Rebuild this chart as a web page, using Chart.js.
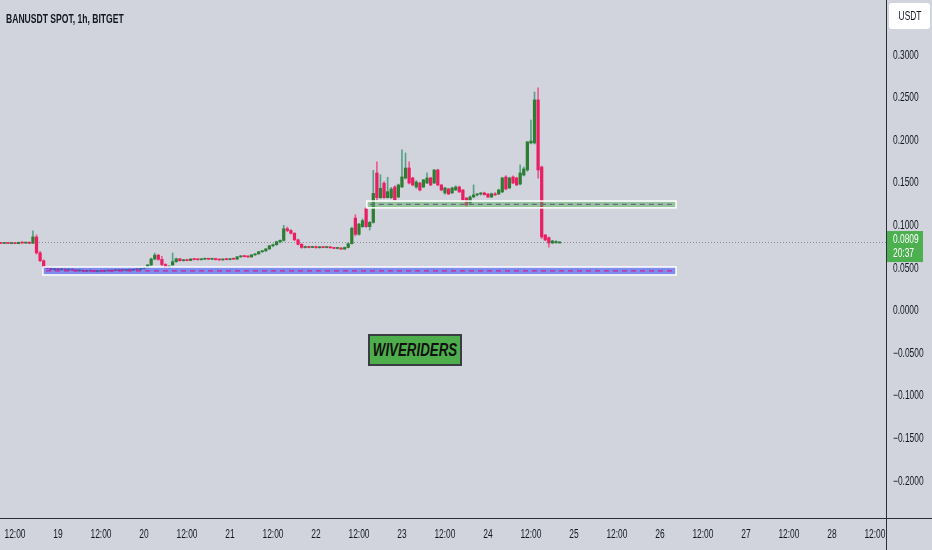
<!DOCTYPE html>
<html>
<head>
<meta charset="utf-8">
<script src="https://cdn.jsdelivr.net/npm/chart.js@4.4.1/dist/chart.umd.min.js"></script>
<style>
  html, body { margin: 0; padding: 0; background: #d1d4dc; }
  #wrap { position: relative; width: 932px; height: 550px; overflow: hidden; }
  .squeeze { position: absolute; left: 50%; top: 0; transform: translateX(-50%) scaleX(0.7); white-space: nowrap; }
  #title { position: absolute; left: 6px; top: 11px; font: bold 13px 'Liberation Sans', sans-serif; color: #131722;
           transform: scaleX(0.66); transform-origin: left top; white-space: nowrap; }
  #unit { position: absolute; left: 889px; top: 3px; width: 41px; height: 26px; background: #fff; border-radius: 3px;
          font: 12px 'Liberation Sans', sans-serif; color: #131722; line-height: 26px; }
  #brand { position: absolute; left: 368px; top: 334px; width: 90px; height: 28px; background: #4fae4c; border: 2px solid #3a3d42;
           font: italic bold 19px 'Liberation Sans', sans-serif; color: #111; line-height: 28px; }
</style>
</head>
<body>
<div id="wrap">
  <canvas id="chart" width="932" height="550"></canvas>
  <div id="title">BANUSDT SPOT, 1h, BITGET</div>
  <div id="unit"><span class="squeeze">USDT</span></div>
  <div id="brand"><span class="squeeze">WIVERIDERS</span></div>
</div>
<script>
// hourly candles, first one at hour 8 of day 18
const firstHour = 8;
const opens = [
  .0795, .0793, .0795, .0792, .0794, .0790, .0805, .0797, .0799, .0794,
  .0868, .0682, .0590, .0510, .0500, .0485, .0490, .0484, .0488, .0481,
  .0486, .0480, .0472, .0476, .0466, .0473, .0468, .0462, .0470, .0466,
  .0476, .0469, .0479, .0474, .0484, .0476, .0482, .0478, .0488, .0484,
  .0496, .0510, .0540, .0610, .0655, .0605, .0545, .0515, .0540, .0578,
  .0612, .0590, .0600, .0592, .0610, .0604, .0601, .0608, .0612, .0607,
  .0614, .0602, .0599, .0606, .0603, .0611, .0608, .0635, .0645, .0638,
  .0634, .0658, .0670, .0695, .0705, .0728, .0765, .0778, .0812, .0828,
  .0965, .0945, .0912, .0835, .0782, .0745, .0756, .0745, .0755, .0742,
  .0752, .0744, .0750, .0741, .0734, .0740, .0726, .0745, .0790, .1090,
  .0900, .0990, .1200, .0990, .1040, .1620, .1330, .1500, .1330, .1330,
  .1455, .1338, .1455, .1560, .1678, .1561, .1455, .1502, .1455, .1502,
  .1561, .1502, .1655, .1479, .1385, .1432, .1385, .1420, .1455, .1420,
  .1326, .1268, .1338, .1362, .1373, .1385, .1373, .1338, .1375, .1373,
  .1397, .1573, .1444, .1573, .1561, .1490, .1596, .1655, .1972, .1972,
  .2477, .1690, .0892, .0860, .0798, .0800, .0809
];
const highs = [
  .0800, .0798, .0799, .0797, .0797, .0808, .0812, .0802, .0812, .0940,
  .0895, .0700, .0600, .0520, .0515, .0495, .0500, .0492, .0494, .0490,
  .0492, .0487, .0480, .0482, .0478, .0480, .0475, .0474, .0478, .0480,
  .0484, .0482, .0486, .0488, .0490, .0486, .0490, .0492, .0495, .0500,
  .0515, .0545, .0620, .0680, .0665, .0640, .0555, .0530, .0680, .0622,
  .0618, .0605, .0606, .0615, .0614, .0610, .0612, .0615, .0616, .0618,
  .0620, .0608, .0610, .0612, .0614, .0616, .0640, .0650, .0652, .0648,
  .0662, .0675, .0700, .0712, .0735, .0770, .0785, .0820, .0835, .1005,
  .0985, .0955, .0920, .0845, .0792, .0762, .0760, .0760, .0762, .0756,
  .0757, .0754, .0755, .0748, .0745, .0744, .0750, .0800, .0985, .1130,
  .1030, .1080, .1215, .1050, .1650, .1750, .1600, .1520, .1570, .1450,
  .1470, .1490, .1890, .1855, .1750, .1570, .1530, .1510, .1545, .1620,
  .1570, .1660, .1665, .1485, .1450, .1440, .1455, .1470, .1465, .1425,
  .1330, .1350, .1480, .1380, .1390, .1395, .1380, .1385, .1390, .1430,
  .1570, .1590, .1570, .1585, .1570, .1715, .1690, .1990, .2240, .2570,
  .2620, .1700, .0900, .0870, .0830, .0825, .0815
];
const lows = [
  .0790, .0789, .0790, .0788, .0789, .0789, .0795, .0792, .0790, .0792,
  .0665, .0580, .0505, .0490, .0480, .0478, .0482, .0476, .0478, .0474,
  .0477, .0468, .0465, .0462, .0460, .0463, .0458, .0458, .0463, .0462,
  .0466, .0465, .0470, .0470, .0472, .0470, .0475, .0474, .0480, .0480,
  .0490, .0505, .0535, .0600, .0595, .0530, .0505, .0505, .0535, .0572,
  .0585, .0585, .0588, .0590, .0600, .0598, .0598, .0602, .0604, .0603,
  .0598, .0595, .0596, .0600, .0600, .0604, .0605, .0630, .0634, .0630,
  .0632, .0652, .0665, .0688, .0700, .0722, .0752, .0770, .0800, .0820,
  .0930, .0900, .0825, .0775, .0735, .0738, .0740, .0742, .0738, .0738,
  .0740, .0740, .0738, .0730, .0728, .0722, .0722, .0740, .0785, .0880,
  .0890, .0980, .0980, .0950, .1030, .1300, .1320, .1320, .1325, .1320,
  .1300, .1330, .1450, .1550, .1490, .1470, .1440, .1410, .1450, .1495,
  .1470, .1495, .1470, .1410, .1370, .1365, .1380, .1415, .1390, .1300,
  .1230, .1260, .1330, .1350, .1360, .1360, .1330, .1330, .1355, .1365,
  .1390, .1420, .1435, .1495, .1470, .1480, .1585, .1640, .1960, .1960,
  .1560, .0850, .0825, .0750, .0790, .0795, .0805
];
const closes = [
  .0793, .0795, .0792, .0794, .0790, .0805, .0797, .0799, .0794, .0870,
  .0682, .0590, .0510, .0500, .0485, .0490, .0484, .0488, .0481, .0486,
  .0480, .0472, .0476, .0466, .0473, .0468, .0462, .0470, .0466, .0476,
  .0469, .0479, .0474, .0484, .0476, .0482, .0478, .0488, .0484, .0496,
  .0510, .0540, .0610, .0655, .0605, .0545, .0515, .0525, .0578, .0612,
  .0590, .0600, .0592, .0610, .0604, .0601, .0608, .0612, .0607, .0614,
  .0602, .0599, .0606, .0603, .0611, .0608, .0635, .0645, .0638, .0634,
  .0658, .0670, .0695, .0705, .0728, .0765, .0778, .0812, .0828, .0965,
  .0945, .0912, .0835, .0782, .0745, .0756, .0745, .0755, .0742, .0752,
  .0744, .0750, .0741, .0734, .0740, .0726, .0745, .0790, .0970, .0900,
  .1020, .1060, .0990, .1040, .1380, .1330, .1440, .1330, .1400, .1432,
  .1305, .1479, .1573, .1678, .1502, .1479, .1514, .1420, .1538, .1561,
  .1479, .1655, .1479, .1420, .1444, .1373, .1444, .1455, .1397, .1303,
  .1244, .1338, .1362, .1373, .1385, .1365, .1338, .1375, .1362, .1420,
  .1561, .1432, .1561, .1502, .1479, .1620, .1667, .1984, .1995, .2477,
  .1655, .0869, .0833, .0798, .0822, .0815, .0809
];
const lastPrice = 0.0809;
const countdown = '20:37';

// support / resistance boxes
const zoneStart = [110.2, 19.8];
const zoneEnd = [196.5, 196.5];
const zoneLow = [0.1210, 0.0423];
const zoneHigh = [0.1290, 0.0516];
const zoneFill = ['rgba(76, 175, 80, 0.45)', 'rgba(60, 80, 255, 0.55)'];
const zoneDash = ['#6d6a86', '#d3208b'];

const xTickHours = [12, 24, 36, 48, 60, 72, 84, 96, 108, 120, 132, 144, 156, 168, 180, 192, 204, 216, 228, 240, 252];
const xTickLabels = ['12:00', '19', '12:00', '20', '12:00', '21', '12:00', '22', '12:00', '23', '12:00',
                     '24', '12:00', '25', '12:00', '26', '12:00', '27', '12:00', '28', '12:00'];
const yTicks = [0.3, 0.25, 0.2, 0.15, 0.1, 0.05, 0, -0.05, -0.1, -0.15, -0.2];

const UP = '#2e7d32', DOWN = '#e91e63';
const UP_WICK = '#57a286', DOWN_WICK = '#ee5b8d';
const TEXT = '#131722';
const SQUEEZE = 0.7;  // labels in the source are horizontally condensed

const hours = opens.map((_, i) => firstHour + i);
const isUp = opens.map((o, i) => closes[i] >= o);

const bodies = hours.map((h, i) => ({ x: h, y: [Math.min(opens[i], closes[i]), Math.max(opens[i], closes[i])] }));
const wicks = hours.map((h, i) => ({ x: h, y: [lows[i], highs[i]] }));

function squeezedText(ctx, text, x, y, align) {
  ctx.save();
  ctx.translate(x, y);
  ctx.scale(SQUEEZE, 1);
  ctx.textAlign = align;
  ctx.textBaseline = 'middle';
  ctx.fillText(text, 0, 0);
  ctx.restore();
}

const overlay = {
  id: 'overlay',
  beforeDatasetsDraw(chart) {
    const { ctx, chartArea: a, scales: { y } } = chart;
    const py = Math.round(y.getPixelForValue(lastPrice)) + 0.5;
    ctx.save();
    ctx.strokeStyle = '#8c8f98';
    ctx.lineWidth = 1;
    ctx.setLineDash([1, 2]);
    ctx.beginPath();
    ctx.moveTo(a.left, py);
    ctx.lineTo(a.right, py);
    ctx.stroke();
    ctx.restore();
  },
  afterDatasetsDraw(chart) {
    const { ctx, chartArea: a, scales: { x, y } } = chart;
    ctx.save();
    ctx.beginPath();
    ctx.rect(a.left, a.top, a.right - a.left, a.bottom - a.top);
    ctx.clip();
    zoneStart.forEach((s, i) => {
      const x0 = x.getPixelForValue(s), x1 = x.getPixelForValue(zoneEnd[i]);
      const y0 = y.getPixelForValue(zoneHigh[i]), y1 = y.getPixelForValue(zoneLow[i]);
      ctx.fillStyle = zoneFill[i];
      ctx.fillRect(x0, y0, x1 - x0, y1 - y0);
      ctx.strokeStyle = '#ffffff';
      ctx.lineWidth = 1.5;
      ctx.setLineDash([]);
      ctx.strokeRect(x0, y0, x1 - x0, y1 - y0);
      const ym = (y0 + y1) / 2;
      ctx.strokeStyle = zoneDash[i];
      ctx.lineWidth = 1.2;
      ctx.setLineDash([5, 4]);
      ctx.beginPath();
      ctx.moveTo(x0 + 3, ym);
      ctx.lineTo(x1 - 3, ym);
      ctx.stroke();
    });
    ctx.restore();
  },
  afterDraw(chart) {
    const { ctx, chartArea: a, scales: { x, y }, width, height } = chart;
    ctx.save();
    ctx.font = "12px 'Liberation Sans', sans-serif";
    ctx.fillStyle = TEXT;
    // tick labels, placed by the scales
    y.ticks.forEach(t => {
      const label = (t.value < 0 ? '\u2212' : '') + Math.abs(t.value).toFixed(4);
      squeezedText(ctx, label, a.right + 7, y.getPixelForValue(t.value), 'left');
    });
    x.ticks.forEach(t => {
      squeezedText(ctx, xTickLabels[xTickHours.indexOf(t.value)], x.getPixelForValue(t.value), a.bottom + 17, 'center');
    });
    // axis separators
    ctx.strokeStyle = '#2a2e39';
    ctx.lineWidth = 1;
    ctx.beginPath();
    ctx.moveTo(Math.round(a.right) + 0.5, 0);
    ctx.lineTo(Math.round(a.right) + 0.5, height);
    ctx.moveTo(0, Math.round(a.bottom) + 0.5);
    ctx.lineTo(width, Math.round(a.bottom) + 0.5);
    ctx.stroke();
    // last price label
    const py = y.getPixelForValue(lastPrice);
    ctx.fillStyle = '#4caf50';
    ctx.fillRect(a.right + 1, py - 11, 36, 31);
    ctx.fillStyle = '#ffffff';
    squeezedText(ctx, lastPrice.toFixed(4), a.right + 7, py - 2, 'left');
    squeezedText(ctx, countdown, a.right + 7, py + 12, 'left');
    ctx.restore();
  }
};

new Chart(document.getElementById('chart'), {
  type: 'bar',
  data: {
    datasets: [
      {
        label: 'body',
        data: bodies,
        backgroundColor: isUp.map(u => u ? UP : DOWN),
        barThickness: 2.6,
        minBarLength: 1,
        grouped: false,
        borderWidth: 0,
      },
      {
        label: 'wick',
        data: wicks,
        backgroundColor: isUp.map(u => u ? UP_WICK : DOWN_WICK),
        barThickness: 1,
        minBarLength: 1,
        grouped: false,
        borderWidth: 0,
      },
    ],
  },
  options: {
    responsive: false,
    animation: false,
    layout: { padding: 0 },
    plugins: { legend: { display: false }, tooltip: { enabled: false } },
    scales: {
      x: {
        type: 'linear',
        min: 7.81,
        max: 255.1,
        offset: false,
        grid: { display: false, drawTicks: false },
        border: { display: false },
        afterBuildTicks: s => { s.ticks = xTickHours.map(v => ({ value: v })); },
        afterFit: s => { s.height = 32; },
        ticks: { display: false },
      },
      y: {
        position: 'right',
        min: -0.243,
        max: 0.365,
        grid: { display: false, drawTicks: false },
        border: { display: false },
        afterBuildTicks: s => { s.ticks = yTicks.map(v => ({ value: v })); },
        afterFit: s => { s.width = 46; },
        ticks: { display: false },
      },
    },
  },
  plugins: [overlay],
});
</script>
</body>
</html>
